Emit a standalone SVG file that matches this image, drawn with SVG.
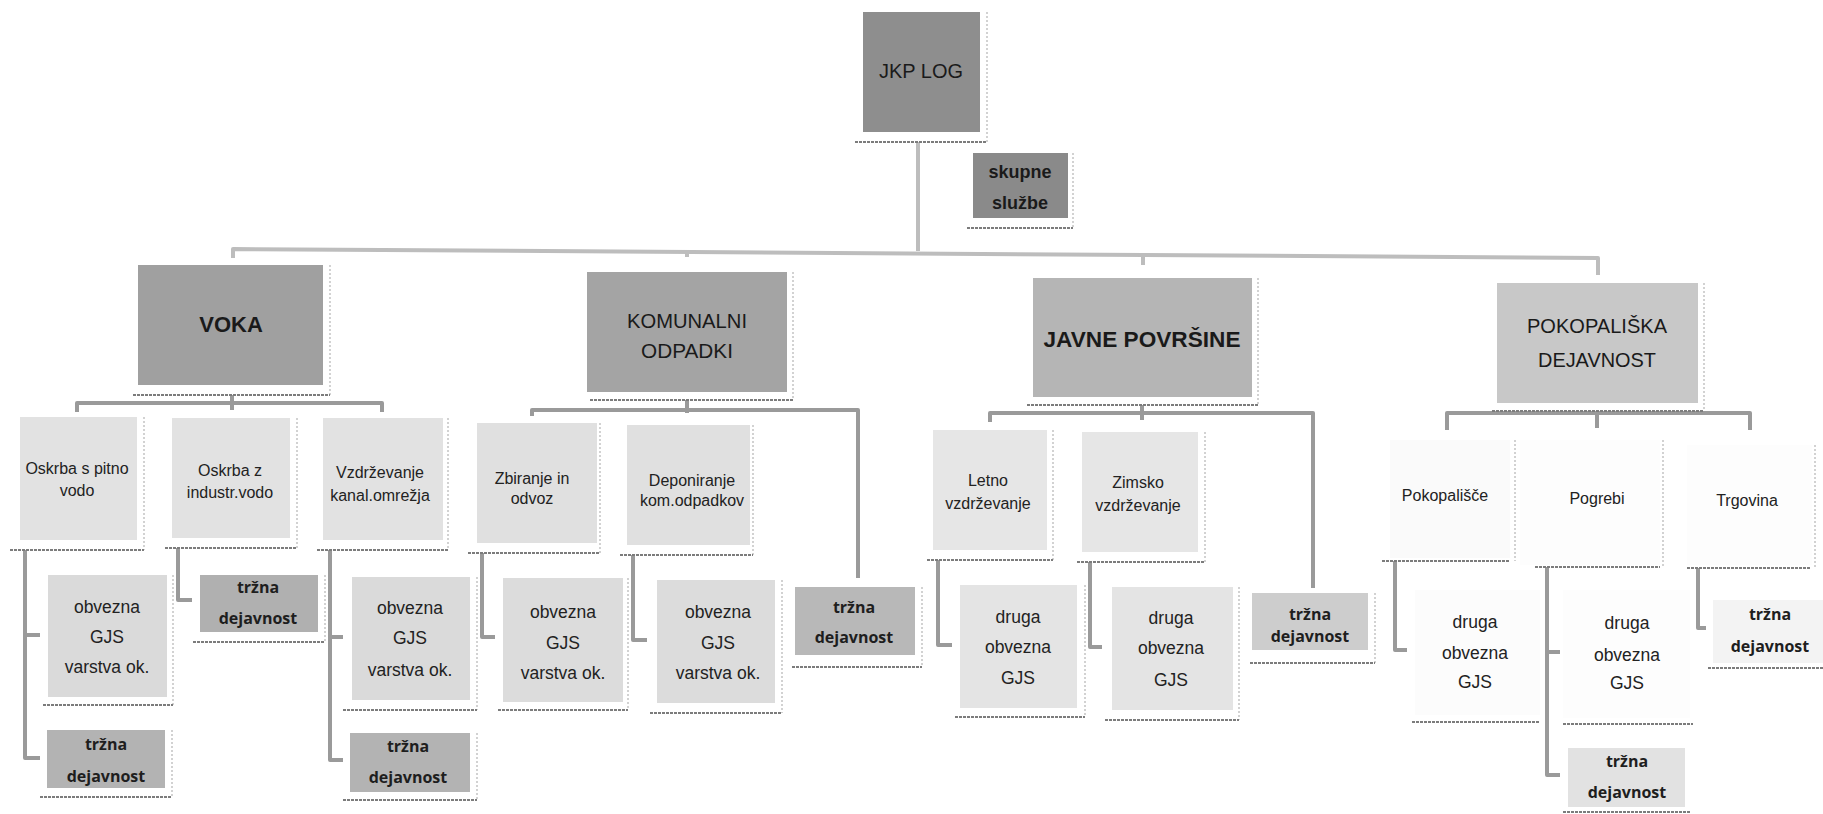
<svg xmlns="http://www.w3.org/2000/svg" width="1823" height="814" viewBox="0 0 1823 814">
<style>
.bg{fill:#ffffff}
.conn{fill:none;stroke:#9a9a9a;stroke-width:4;stroke-linejoin:round}
.top{fill:none;stroke:#bdbdbd;stroke-width:4;stroke-linejoin:round}
.er{stroke:#c4c4c4;stroke-width:1.5;stroke-dasharray:2 2;fill:none}
.eb{stroke:#7c7c7c;stroke-width:2;stroke-dasharray:3 1;fill:none}
.t1{font-family:"Liberation Sans",Arial,sans-serif;font-size:21px;fill:#1a1a1a;text-anchor:middle}
.t1b{font-family:"Liberation Sans",Arial,sans-serif;font-size:22px;font-weight:bold;fill:#1a1a1a;text-anchor:middle}
.t2{font-family:"Liberation Sans",Arial,sans-serif;font-size:16px;fill:#222;text-anchor:middle}
.t3{font-family:"Liberation Sans",Arial,sans-serif;font-size:17.5px;fill:#222;text-anchor:middle}
.tb{font-family:"Open Sans","DejaVu Sans",sans-serif;font-size:16px;font-weight:bold;fill:#1e1e1e;text-anchor:middle}
.sk{font-family:"Liberation Sans",Arial,sans-serif;font-size:18px;font-weight:bold;fill:#1a1a1a;text-anchor:middle}
</style>
<rect class="bg" x="0" y="0" width="1823" height="814"/>

<g id="connectors">
  <path class="top" d="M918,142 V251"/>
  <path class="top" d="M233,258 V249 L1598,258 V275"/>
  <path class="top" d="M687,251 V257"/>
  <path class="top" d="M1143,255 V265"/>

  <path class="conn" d="M232,395 V410"/>
  <path class="conn" d="M77,412 V403 H382 V412"/>
  <path class="conn" d="M25,550 V758 H40 M25,635 H40"/>
  <path class="conn" d="M178,548 V600 H192"/>
  <path class="conn" d="M330,550 V760 H343 M330,637 H343"/>

  <path class="conn" d="M687,400 V413"/>
  <path class="conn" d="M532,416 V410 H858 V578"/>
  <path class="conn" d="M482,553 V637 H495"/>
  <path class="conn" d="M633,555 V640 H647"/>

  <path class="conn" d="M1142,405 V420"/>
  <path class="conn" d="M990,422 V413 H1313 V588"/>
  <path class="conn" d="M938,560 V645 H952"/>
  <path class="conn" d="M1090,562 V647 H1102"/>

  <path class="conn" d="M1597,411 V428"/>
  <path class="conn" d="M1447,430 V413 H1750 V430"/>
  <path class="conn" d="M1395,561 V650 H1407"/>
  <path class="conn" d="M1547,567 V775 H1560 M1547,652 H1560"/>
  <path class="conn" d="M1698,568 V628 H1706"/>
</g>

<g id="jkp">
  <rect x="863" y="12" width="117" height="120" fill="#8e8e8e"/>
  <path class="er" d="M987,12 V142"/><path class="eb" d="M855,142 H987"/>
  <text class="t1" x="921" y="78" textLength="84" lengthAdjust="spacingAndGlyphs">JKP LOG</text>
</g>
<g id="skupne">
  <rect x="973" y="153" width="95" height="65" fill="#8a8a8a"/>
  <path class="er" d="M1073,153 V228"/><path class="eb" d="M967,228 H1073"/>
  <text class="sk" x="1020" y="178">skupne</text>
  <text class="sk" x="1020" y="209">službe</text>
</g>

<g id="voka">
  <rect x="138" y="265" width="185" height="120" fill="#a0a0a0"/>
  <path class="er" d="M330,265 V395"/><path class="eb" d="M133,395 H330"/>
  <text class="t1b" x="231" y="332">VOKA</text>
</g>
<g id="komunalni">
  <rect x="587" y="272" width="200" height="120" fill="#a4a4a4"/>
  <path class="er" d="M793,272 V400"/><path class="eb" d="M590,400 H793"/>
  <text class="t1" x="687" y="328" textLength="120" lengthAdjust="spacingAndGlyphs">KOMUNALNI</text>
  <text class="t1" x="687" y="358" textLength="92" lengthAdjust="spacingAndGlyphs">ODPADKI</text>
</g>
<g id="javne">
  <rect x="1033" y="278" width="219" height="119" fill="#b5b5b5"/>
  <path class="er" d="M1258,278 V405"/><path class="eb" d="M1027,405 H1258"/>
  <text class="t1b" x="1142" y="347" textLength="197" lengthAdjust="spacingAndGlyphs">JAVNE POVRŠINE</text>
</g>
<g id="pokopaliska">
  <rect x="1497" y="283" width="201" height="120" fill="#c8c8c8"/>
  <path class="er" d="M1704,283 V411"/><path class="eb" d="M1492,411 H1704"/>
  <text class="t1" x="1597" y="333" textLength="140" lengthAdjust="spacingAndGlyphs">POKOPALIŠKA</text>
  <text class="t1" x="1597" y="367" textLength="118" lengthAdjust="spacingAndGlyphs">DEJAVNOST</text>
</g>

<g id="voka-pitna">
  <rect x="20" y="417" width="117" height="123" fill="#e2e2e2"/>
  <path class="er" d="M144,417 V550"/><path class="eb" d="M10,550 H144"/>
  <text class="t2" x="77" y="474">Oskrba s pitno</text>
  <text class="t2" x="77" y="496">vodo</text>
</g>
<g id="voka-industr">
  <rect x="172" y="418" width="118" height="120" fill="#e2e2e2"/>
  <path class="er" d="M297,418 V548"/><path class="eb" d="M165,548 H297"/>
  <text class="t2" x="230" y="476">Oskrba z</text>
  <text class="t2" x="230" y="498">industr.vodo</text>
</g>
<g id="voka-kanal">
  <rect x="323" y="418" width="120" height="122" fill="#e2e2e2"/>
  <path class="er" d="M448,418 V550"/><path class="eb" d="M317,550 H448"/>
  <text class="t2" x="380" y="478">Vzdrževanje</text>
  <text class="t2" x="380" y="501">kanal.omrežja</text>
</g>

<g id="voka-pitna-gjs">
  <rect x="48" y="575" width="119" height="122" fill="#dadada"/>
  <path class="er" d="M173,575 V705"/><path class="eb" d="M43,705 H173"/>
  <text class="t3" x="107" y="613">obvezna</text>
  <text class="t3" x="107" y="643">GJS</text>
  <text class="t3" x="107" y="673">varstva ok.</text>
</g>
<g id="voka-pitna-trzna">
  <rect x="47" y="730" width="118" height="58" fill="#b3b3b3"/>
  <path class="er" d="M172,730 V797"/><path class="eb" d="M40,797 H172"/>
  <text class="tb" x="106" y="750">tržna</text>
  <text class="tb" x="106" y="782">dejavnost</text>
</g>
<g id="voka-industr-trzna">
  <rect x="200" y="575" width="118" height="57" fill="#b0b0b0"/>
  <path class="er" d="M325,575 V642"/><path class="eb" d="M193,642 H325"/>
  <text class="tb" x="258" y="593">tržna</text>
  <text class="tb" x="258" y="624">dejavnost</text>
</g>
<g id="voka-kanal-gjs">
  <rect x="352" y="577" width="118" height="123" fill="#dadada"/>
  <path class="er" d="M477,577 V710"/><path class="eb" d="M343,710 H477"/>
  <text class="t3" x="410" y="614">obvezna</text>
  <text class="t3" x="410" y="644">GJS</text>
  <text class="t3" x="410" y="676">varstva ok.</text>
</g>
<g id="voka-kanal-trzna">
  <rect x="350" y="733" width="120" height="59" fill="#b3b3b3"/>
  <path class="er" d="M477,733 V800"/><path class="eb" d="M343,800 H477"/>
  <text class="tb" x="408" y="752">tržna</text>
  <text class="tb" x="408" y="783">dejavnost</text>
</g>

<g id="kom-zbiranje">
  <rect x="477" y="423" width="120" height="120" fill="#e0e0e0"/>
  <path class="er" d="M600,423 V553"/><path class="eb" d="M468,553 H600"/>
  <text class="t2" x="532" y="484">Zbiranje in</text>
  <text class="t2" x="532" y="504">odvoz</text>
</g>
<g id="kom-deponiranje">
  <rect x="627" y="425" width="123" height="120" fill="#e0e0e0"/>
  <path class="er" d="M753,425 V555"/><path class="eb" d="M620,555 H753"/>
  <text class="t2" x="692" y="486">Deponiranje</text>
  <text class="t2" x="692" y="506">kom.odpadkov</text>
</g>
<g id="kom-zbiranje-gjs">
  <rect x="503" y="578" width="120" height="124" fill="#dcdcdc"/>
  <path class="er" d="M628,578 V710"/><path class="eb" d="M498,710 H628"/>
  <text class="t3" x="563" y="618">obvezna</text>
  <text class="t3" x="563" y="649">GJS</text>
  <text class="t3" x="563" y="679">varstva ok.</text>
</g>
<g id="kom-deponiranje-gjs">
  <rect x="657" y="580" width="118" height="123" fill="#dcdcdc"/>
  <path class="er" d="M782,580 V713"/><path class="eb" d="M650,713 H782"/>
  <text class="t3" x="718" y="618">obvezna</text>
  <text class="t3" x="718" y="649">GJS</text>
  <text class="t3" x="718" y="679">varstva ok.</text>
</g>
<g id="kom-trzna">
  <rect x="795" y="587" width="120" height="68" fill="#b8b8b8"/>
  <path class="er" d="M922,587 V667"/><path class="eb" d="M792,667 H922"/>
  <text class="tb" x="854" y="613">tržna</text>
  <text class="tb" x="854" y="643">dejavnost</text>
</g>

<g id="javne-letno">
  <rect x="933" y="430" width="114" height="120" fill="#e6e6e6"/>
  <path class="er" d="M1053,430 V560"/><path class="eb" d="M927,560 H1053"/>
  <text class="t2" x="988" y="486">Letno</text>
  <text class="t2" x="988" y="509">vzdrževanje</text>
</g>
<g id="javne-zimsko">
  <rect x="1082" y="432" width="116" height="120" fill="#e6e6e6"/>
  <path class="er" d="M1205,432 V562"/><path class="eb" d="M1077,562 H1205"/>
  <text class="t2" x="1138" y="488">Zimsko</text>
  <text class="t2" x="1138" y="511">vzdrževanje</text>
</g>
<g id="javne-letno-gjs">
  <rect x="960" y="585" width="117" height="123" fill="#e4e4e4"/>
  <path class="er" d="M1085,585 V717"/><path class="eb" d="M955,717 H1085"/>
  <text class="t3" x="1018" y="623">druga</text>
  <text class="t3" x="1018" y="653">obvezna</text>
  <text class="t3" x="1018" y="684">GJS</text>
</g>
<g id="javne-zimsko-gjs">
  <rect x="1112" y="587" width="121" height="123" fill="#e4e4e4"/>
  <path class="er" d="M1239,587 V720"/><path class="eb" d="M1105,720 H1239"/>
  <text class="t3" x="1171" y="624">druga</text>
  <text class="t3" x="1171" y="654">obvezna</text>
  <text class="t3" x="1171" y="686">GJS</text>
</g>
<g id="javne-trzna">
  <rect x="1252" y="593" width="116" height="57" fill="#cdcdcd"/>
  <path class="er" d="M1375,593 V663"/><path class="eb" d="M1250,663 H1375"/>
  <text class="tb" x="1310" y="620">tržna</text>
  <text class="tb" x="1310" y="642">dejavnost</text>
</g>

<g id="pok-pokopalisce">
  <rect x="1390" y="440" width="120" height="118" fill="#fafafa"/>
  <path class="er" d="M1515,440 V561"/><path class="eb" d="M1382,561 H1510"/>
  <text class="t2" x="1445" y="501">Pokopališče</text>
</g>
<g id="pok-pogrebi">
  <rect x="1520" y="440" width="140" height="125" fill="#fdfdfd"/>
  <path class="er" d="M1663,440 V567"/><path class="eb" d="M1535,567 H1660"/>
  <text class="t2" x="1597" y="504">Pogrebi</text>
</g>
<g id="pok-trgovina">
  <rect x="1687" y="445" width="125" height="120" fill="#fdfdfd"/>
  <path class="er" d="M1815,445 V568"/><path class="eb" d="M1687,568 H1810"/>
  <text class="t2" x="1747" y="506">Trgovina</text>
</g>
<g id="pok-pokopalisce-gjs">
  <rect x="1415" y="590" width="125" height="125" fill="#fcfcfc"/>
  <path class="eb" d="M1412,722 H1540"/>
  <text class="t3" x="1475" y="628">druga</text>
  <text class="t3" x="1475" y="659">obvezna</text>
  <text class="t3" x="1475" y="688">GJS</text>
</g>
<g id="pok-pogrebi-gjs">
  <rect x="1563" y="590" width="127" height="128" fill="#fdfdfd"/>
  <path class="eb" d="M1563,724 H1693"/>
  <text class="t3" x="1627" y="629">druga</text>
  <text class="t3" x="1627" y="661">obvezna</text>
  <text class="t3" x="1627" y="689">GJS</text>
</g>
<g id="pok-pogrebi-trzna">
  <rect x="1568" y="748" width="117" height="59" fill="#e2e2e2"/>
  <path class="eb" d="M1563,812 H1690"/>
  <text class="tb" x="1627" y="767">tržna</text>
  <text class="tb" x="1627" y="798">dejavnost</text>
</g>
<g id="pok-trgovina-trzna">
  <rect x="1713" y="600" width="110" height="63" fill="#f3f3f3"/>
  <path class="eb" d="M1708,668 H1823"/>
  <text class="tb" x="1770" y="620">tržna</text>
  <text class="tb" x="1770" y="652">dejavnost</text>
</g>
</svg>
